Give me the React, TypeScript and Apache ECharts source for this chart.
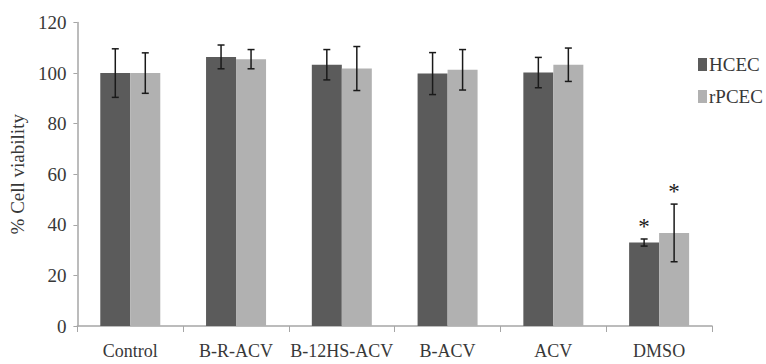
import React, { useEffect, useRef } from "react";
import * as echarts from "echarts";

const categories = ["Control", "B-R-ACV", "B-12HS-ACV", "B-ACV", "ACV", "DMSO"];
const hcecValues = [100, 106.4, 103.3, 99.8, 100.2, 33];
const hcecErrors = [9.6, 4.7, 6, 8.3, 6, 1.4];
const hcecSignificant = [false, false, false, false, false, true];
const rpcecValues = [100, 105.5, 101.8, 101.3, 103.3, 36.8];
const rpcecErrors = [8, 3.8, 8.7, 8, 6.6, 11.4];
const rpcecSignificant = [false, false, false, false, false, true];
const yTicks = [0, 20, 40, 60, 80, 100, 120];

const FONT = "Liberation Serif";
const TEXT_COLOR = "#383838";
const AXIS_COLOR = "#a6a6a6";
const BAR_W = 30;

function errorSeries(values: number[], errors: number[], sig: boolean[], offset: number) {
  return {
    type: "custom",
    name: "err",
    silent: true,
    z: 5,
    data: values.map((v, i) => [i, v - errors[i], v + errors[i], sig[i] ? 1 : 0]),
    encode: { x: 0, y: [1, 2] },
    renderItem: (params: any, api: any) => {
      const idx = api.value(0);
      const lo = api.coord([idx, api.value(1)]);
      const hi = api.coord([idx, api.value(2)]);
      const cx = lo[0] + offset;
      const cap = 3.5;
      const style = { stroke: "#1a1a1a", lineWidth: 1.5 };
      const children: any[] = [
        { type: "line", shape: { x1: cx, y1: lo[1], x2: cx, y2: hi[1] }, style },
        { type: "line", shape: { x1: cx - cap, y1: lo[1], x2: cx + cap, y2: lo[1] }, style },
        { type: "line", shape: { x1: cx - cap, y1: hi[1], x2: cx + cap, y2: hi[1] }, style },
      ];
      if (api.value(3) === 1) {
        children.push({
          type: "text",
          x: cx,
          y: hi[1] - 1,
          style: {
            text: "*",
            fill: "#1a1a1a",
            fontFamily: FONT,
            fontSize: 23,
            align: "center",
            verticalAlign: "bottom",
          },
        });
      }
      return { type: "group", children };
    },
  };
}

export default function App() {
  const ref = useRef<HTMLDivElement>(null);
  useEffect(() => {
    if (!ref.current) return;
    const chart = echarts.init(ref.current, undefined, { renderer: "svg" });
    chart.setOption({
      animation: false,
      backgroundColor: "#ffffff",
      textStyle: { fontFamily: FONT },
      grid: { left: 73, right: 54, top: 22.5, bottom: 38 },
      legend: {
        orient: "vertical",
        left: 698,
        top: 55,
        padding: 0,
        itemWidth: 9,
        itemHeight: 13,
        itemGap: 13,
        icon: "rect",
        data: ["HCEC", "rPCEC"],
        textStyle: { fontFamily: FONT, fontSize: 19, color: TEXT_COLOR, padding: [0, 0, 0, -3] },
      },
      xAxis: {
        type: "category",
        data: categories,
        axisLine: { lineStyle: { color: AXIS_COLOR, width: 1.5 } },
        axisTick: { show: true, length: 6, lineStyle: { color: AXIS_COLOR } },
        axisLabel: { fontFamily: FONT, fontSize: 18, color: TEXT_COLOR, margin: 16, interval: 0 },
      },
      yAxis: {
        type: "value",
        min: yTicks[0],
        max: yTicks[yTicks.length - 1],
        interval: 20,
        name: "% Cell viability",
        nameLocation: "middle",
        nameGap: 45,
        nameTextStyle: { fontFamily: FONT, fontSize: 19, color: TEXT_COLOR },
        axisLine: { show: true, lineStyle: { color: AXIS_COLOR, width: 1.5 } },
        axisTick: { show: true, length: 4, lineStyle: { color: AXIS_COLOR } },
        splitLine: { show: false },
        axisLabel: { fontFamily: FONT, fontSize: 19, color: TEXT_COLOR, margin: 11 },
      },
      series: [
        {
          type: "bar",
          name: "HCEC",
          data: hcecValues,
          barWidth: BAR_W,
          barGap: "0%",
          itemStyle: { color: "#5b5b5b" },
        },
        {
          type: "bar",
          name: "rPCEC",
          data: rpcecValues,
          barWidth: BAR_W,
          barGap: "0%",
          itemStyle: { color: "#b1b1b1" },
        },
        errorSeries(hcecValues, hcecErrors, hcecSignificant, -BAR_W / 2),
        errorSeries(rpcecValues, rpcecErrors, rpcecSignificant, BAR_W / 2),
      ],
    });
    return () => chart.dispose();
  }, []);
  return (
    <div
      ref={ref}
      style={{ position: "fixed", left: 0, top: 0, width: 766, height: 364 }}
    />
  );
}
